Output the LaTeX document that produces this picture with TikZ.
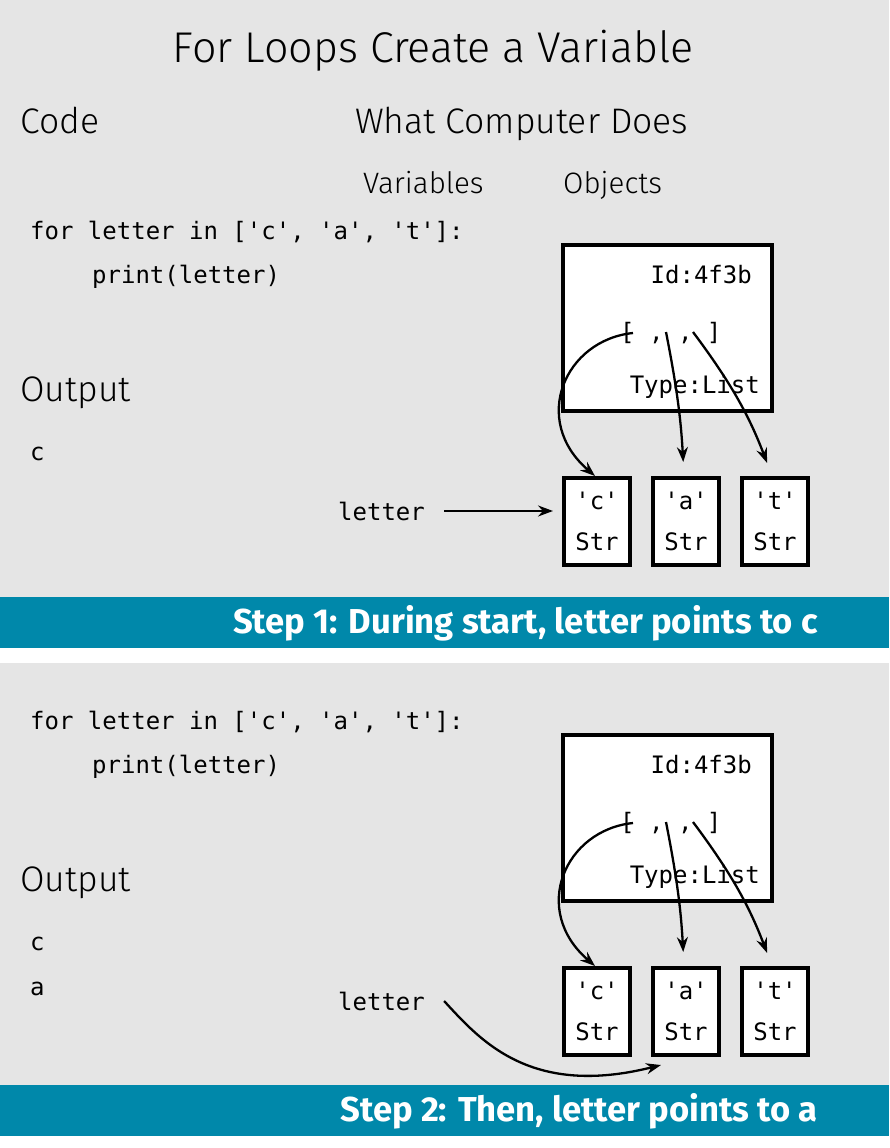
\documentclass[tikz,border=0pt]{standalone}
\usepackage{fontspec}
\setmonofont{DejaVu Sans Mono}
\newfontfamily\lightsans{Fira Sans Light}
\newfontfamily\bandsans{Fira Sans}
\usetikzlibrary{arrows.meta,positioning}
\definecolor{panelgray}{HTML}{E5E5E5}
\definecolor{bandteal}{HTML}{0088AA}
\tikzset{
  hd/.style={anchor=base west,inner sep=0pt,font=\lightsans\fontsize{35.5}{42}\selectfont},
  subhd/.style={anchor=base west,inner sep=0pt,font=\lightsans\fontsize{29.5}{36}\selectfont},
  code/.style={anchor=base west,inner sep=0pt,font=\ttfamily\fontsize{24}{28}\selectfont},
  listbox/.style={draw,line width=4pt,fill=white,minimum width=209pt,minimum height=166pt},
  strbox/.style={draw,line width=4pt,fill=white,minimum width=66pt,minimum height=87pt,inner sep=0pt,
                 align=center,font=\ttfamily\fontsize{24}{41}\selectfont},
  ptr/.style={-{Stealth[length=15pt,width=11pt,inset=5pt]},line width=2.3pt},
  bandtxt/.style={anchor=base east,inner sep=0pt,text=white,font=\bandsans\bfseries\fontsize{34.6}{40}\selectfont},
}

\begin{document}
\begin{tikzpicture}[x=1pt,y=-1pt]
  \useasboundingbox (0,0) rectangle (889,1148);
  % panels and bands
  \fill[white] (0,0) rectangle (889,1148);
  \fill[panelgray] (0,0) rectangle (889,597);
  \fill[bandteal] (0,597) rectangle (889,648);
  \fill[panelgray] (0,663) rectangle (889,1085);
  \fill[bandteal] (0,1085) rectangle (889,1136);

  \node[anchor=base,inner sep=0pt,font=\lightsans\fontsize{43}{50}\selectfont] (title) at (433,63) {For Loops Create a Variable};
  \node[hd] (codehd) at (20,133) {Code};
  \node[hd] (comphd) at (355,133) {What Computer Does};
  \node[subhd] (varhd) at (363,193) {Variables};
  \node[subhd] (objhd) at (563,193) {Objects};

  \foreach \p/\dy in {1/0,2/490}{
    \node[code] (for\p) at (30,239+\dy) {for letter in ['c', 'a', 't']:};
    \node[code] (print\p) at (92,283+\dy) {print(letter)};
    \node[hd] (outhd\p) at (20,401+\dy) {Output};
    % the list object
    \node[listbox] (lst\p) at (667.5,328+\dy) {};
    \node[code,anchor=base east] (id\p) at (752,283+\dy) {Id:4f3b};
    \node[code] (brk\p) at (620,340+\dy) {[ , , ]};
    \node[code,anchor=base east] (type\p) at (760,393+\dy) {Type:List};
    % the str objects
    \node[strbox] (c\p) at (597,521.5+\dy) {'c'\\Str};
    \node[strbox,right=19pt of c\p] (a\p) {'a'\\Str};
    \node[strbox,right=19pt of a\p] (t\p) {'t'\\Str};
    \coordinate (lb\p) at (633,333+\dy);
    \coordinate (la\p) at (666,332+\dy);
    \coordinate (lt\p) at (693,332+\dy);
    \draw[ptr] (lb\p) .. controls (565,340+\dy) and (530,420+\dy) .. ([xshift=-2pt]c\p.north);
    \draw[ptr,shorten >=14pt] (la\p) to[bend left=4] ([xshift=-2pt]a\p.north);
    \draw[ptr,shorten >=14pt] (lt\p) to[bend left=8] ([xshift=-3pt]t\p.north);
    \node[code] (var\p) at (338,520+\dy) {letter};
  }

  % step 1
  \node[code] (out1c) at (30,460) {c};
  \draw[ptr] ([xshift=19pt]var1.east) -- ([xshift=-9pt]var1.east -| c1.west);
  \node[bandtxt] (step1) at (818,633) {Step 1: During start, letter points to c};

  % step 2
  \node[code] (out2c) at (30,950) {c};
  \node[code] (out2a) at (30,995) {a};
  \draw[ptr] ([xshift=19pt]var2.east) .. controls (480,1040) and (530,1098) .. ([xshift=10pt,yshift=-8pt]a2.south west);
  \node[bandtxt] (step2) at (818,1121) {Step 2: Then, letter points to a};
\end{tikzpicture}
\end{document}
